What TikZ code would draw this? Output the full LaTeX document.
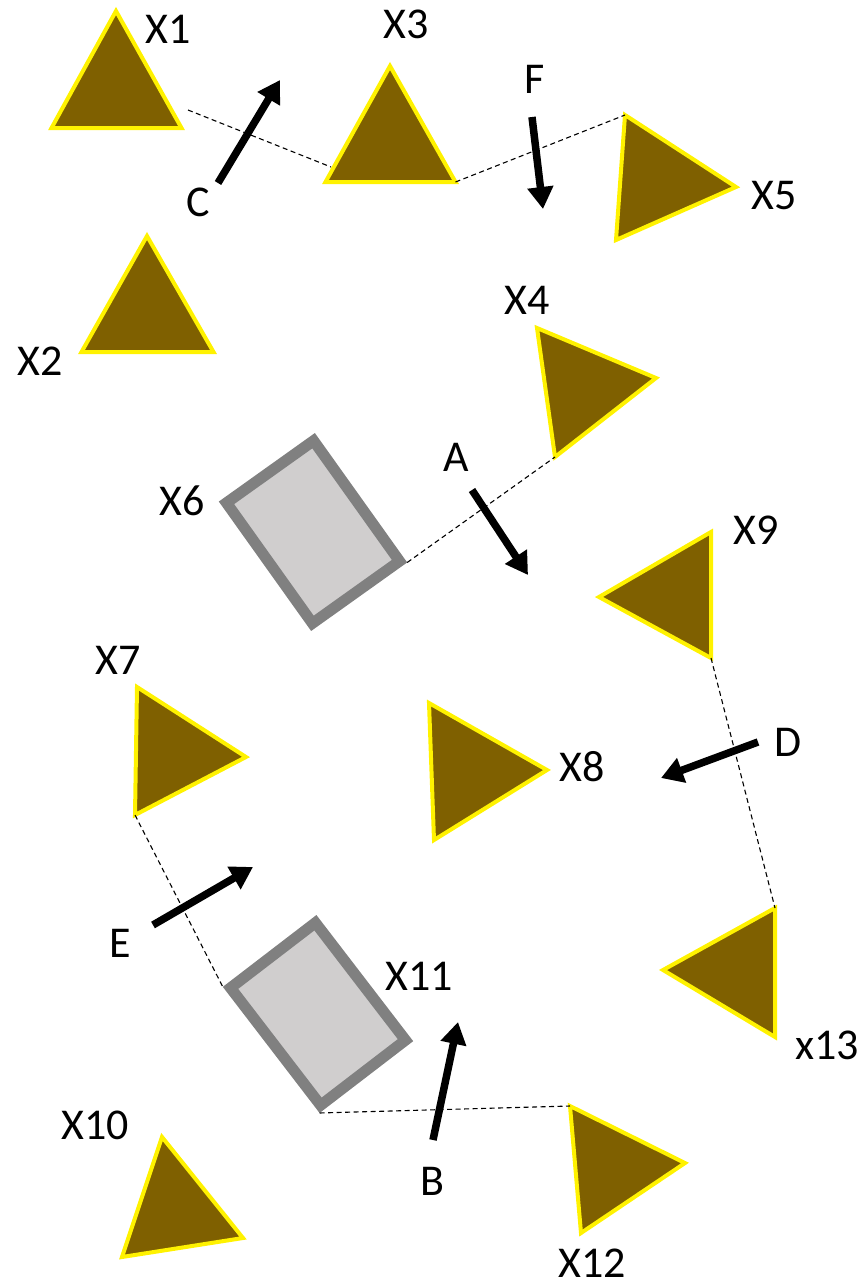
\documentclass[tikz,border=0pt]{standalone}
\usepackage{fontspec}
\setmainfont{Carlito}
\usetikzlibrary{arrows.meta}
\definecolor{tribrown}{HTML}{7F6000}
\definecolor{boxfill}{HTML}{D0CECE}
\definecolor{boxedge}{HTML}{808080}

\begin{document}
\begin{tikzpicture}[
    x=1pt, y=-1pt,
    tri/.style={fill=tribrown, draw=yellow, line width=4pt, line join=miter},
    box/.style={rectangle, fill=boxfill, draw=boxedge, line width=11pt,
                minimum width=107pt, minimum height=148pt, inner sep=0pt},
    move/.style={-{Triangle[length=22pt, width=25pt]}, line width=7.5pt},
    link/.style={dashed, line width=1.1pt, dash pattern=on 5pt off 3.5pt},
    lbl/.style={font=\fontsize{44}{48}\selectfont, inner sep=0pt},
]
    \useasboundingbox (0,0) rectangle (867,1286);

    % --- Top rows ---
    \draw[tri] (116,11) coordinate (x1a) -- (181.5,128) coordinate (x1b) -- (51.5,128) coordinate (x1c) -- cycle;
    \draw[tri] (390,66) coordinate (x3a) -- (455.5,182) coordinate (x3b) -- (325.5,182) coordinate (x3c) -- cycle;
    \draw[tri] (147,236) coordinate (x2a) -- (213.5,352) coordinate (x2b) -- (81.5,352) coordinate (x2c) -- cycle;
    \draw[tri] (625,115) coordinate (x5a) -- (736,187) coordinate (x5b) -- (616,240) coordinate (x5c) -- cycle;
    \draw[tri] (537,328) coordinate (x4a) -- (656,378) coordinate (x4b) -- (555,457) coordinate (x4c) -- cycle;

    \node[lbl] (lx1) at (168,29)  {X1};
    \node[lbl] (lx3) at (406,24)  {X3};
    \node[lbl] (lx2) at (40,361)  {X2};
    \node[lbl] (lx5) at (774,196) {X5};
    \node[lbl] (lx4) at (527,300) {X4};

    % --- Middle ---
    \node[box, rotate=35.5] (x6) at (313,532) {};
    \draw[tri] (711,532) coordinate (x9a) -- (711,658) coordinate (x9b) -- (599,597) coordinate (x9c) -- cycle;
    \draw[tri] (137,687) coordinate (x7a) -- (246,757) coordinate (x7b) -- (135,815) coordinate (x7c) -- cycle;
    \draw[tri] (429,703) coordinate (x8a) -- (547,770) coordinate (x8b) -- (434,840) coordinate (x8c) -- cycle;

    \node[lbl] (lx6) at (182,501) {X6};
    \node[lbl] (lx9) at (756,530) {X9};
    \node[lbl] (lx7) at (118,660) {X7};
    \node[lbl] (lx8) at (582,767) {X8};

    % --- Bottom ---
    \node[box, rotate=37.5] (x11) at (318,1014) {};
    \draw[tri] (775,908) coordinate (x13a) -- (775,1037) coordinate (x13b) -- (663,970) coordinate (x13c) -- cycle;
    \draw[tri] (570,1106) coordinate (x12a) -- (685,1163) coordinate (x12b) -- (581,1233) coordinate (x12c) -- cycle;
    \draw[tri] (162,1137) coordinate (x10a) -- (243,1238) coordinate (x10b) -- (122,1257) coordinate (x10c) -- cycle;

    \node[lbl] (lx11) at (419,976)  {X11};
    \node[lbl] (lx13) at (827,1045) {x13};
    \node[lbl] (lx12) at (592,1263) {X12};
    \node[lbl] (lx10) at (95,1125)  {X10};

    % dashed links
    \coordinate (x1r) at (188,110);
    \coordinate (x3l) at (331,167);
    \draw[link] (x1r) -- (x3l);
    \draw[link] (x3b) -- (x5a);
    \draw[link] (x6.south east) -- (x4c);
    \draw[link] (x9b) -- (x13a);
    \draw[link] (x7c) -- (x11.north west);
    \draw[link] (x11.south west) -- (x12a);

    % motion arrows
    \coordinate (cT) at (218,183);  \coordinate (cH) at (280,80);
    \coordinate (fT) at (532,117);  \coordinate (fH) at (543,209);
    \coordinate (aT) at (472,490);  \coordinate (aH) at (528,575);
    \coordinate (dT) at (758,742);  \coordinate (dH) at (661,778);
    \coordinate (eT) at (153,925);  \coordinate (eH) at (253,867);
    \coordinate (bT) at (433,1140); \coordinate (bH) at (458,1022);
    \draw[move] (cT) -- (cH);
    \draw[move] (fT) -- (fH);
    \draw[move] (aT) -- (aH);
    \draw[move] (dT) -- (dH);
    \draw[move] (eT) -- (eH);
    \draw[move] (bT) -- (bH);

    \node[lbl] (lc) at (198,202)  {C};
    \node[lbl] (lf) at (535,79)   {F};
    \node[lbl] (la) at (456,457)  {A};
    \node[lbl] (ld) at (788,742)  {D};
    \node[lbl] (le) at (120,943)  {E};
    \node[lbl] (lb) at (432,1181) {B};
\end{tikzpicture}
\end{document}
